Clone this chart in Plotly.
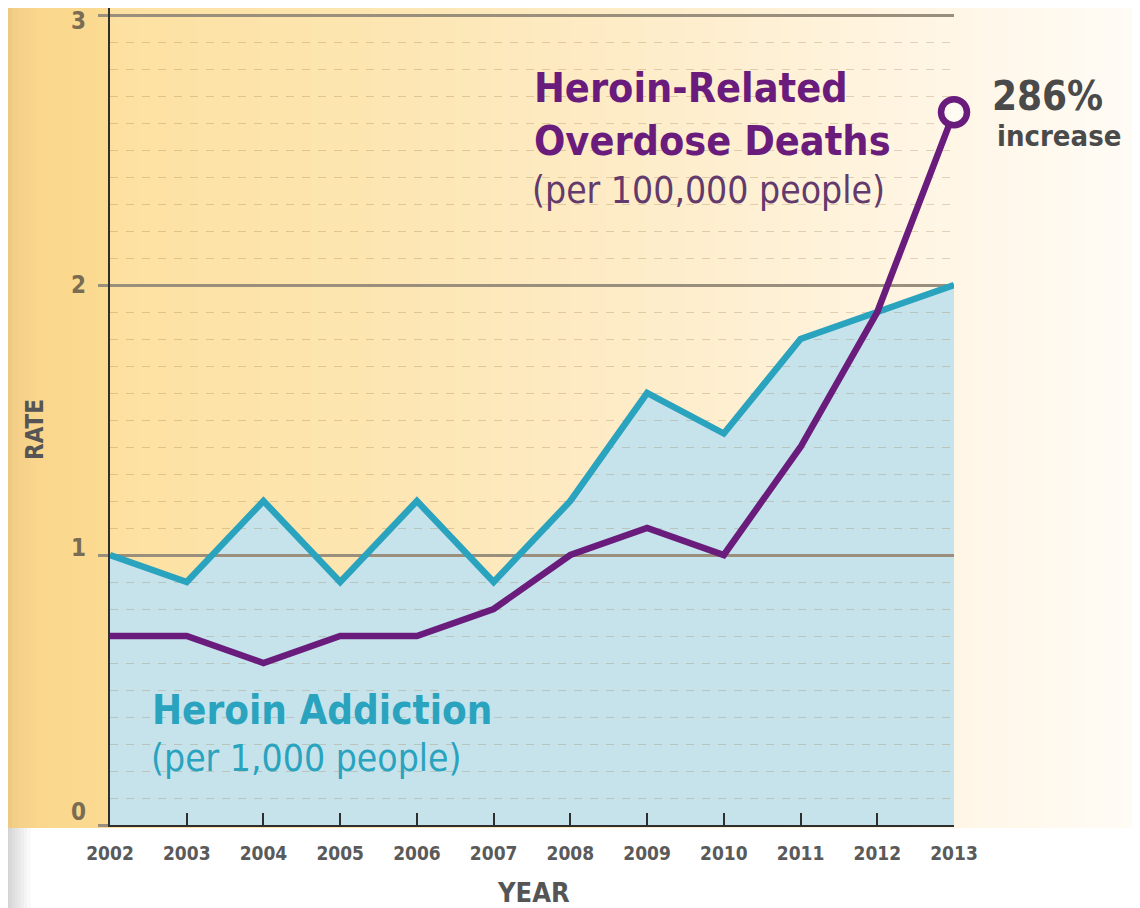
import plotly.graph_objects as go

years = [2002, 2003, 2004, 2005, 2006, 2007, 2008, 2009, 2010, 2011, 2012, 2013]
addiction = [1.0, 0.9, 1.2, 0.9, 1.2, 0.9, 1.2, 1.6, 1.45, 1.8, 1.9, 2.0]
deaths = [0.7, 0.7, 0.6, 0.7, 0.7, 0.8, 1.0, 1.1, 1.0, 1.4, 1.9, 2.64]
y_ticks = [0, 1, 2, 3]

# page offset of the figure (default body margin)
OFF = 8
W, H = 1132, 900
ML, MT = 102, 0
MB = H - (825 - OFF)
MR = W - (954 - OFF)
PW, PH = W - ML - MR, H - MT - MB

def fx(px):
    """page pixel x -> paper fraction"""
    return (px - OFF - ML) / PW

def fy(py):
    """page pixel y -> paper fraction"""
    return (825 - py) / PH

FONT = "Liberation Sans Narrow, DejaVu Sans Condensed, Roboto, sans-serif"
PURPLE = "#6A1C7C"
TEAL = "#2AA3BE"
FILL = "#C6E3EC"
GREY = "#555555"

def hex2rgb(h):
    h = h.lstrip("#")
    return tuple(int(h[i:i + 2], 16) for i in (0, 2, 4))

stops = [(0, "#E6C47F"), (18, "#F4D088"), (40, "#FAD78C"), (105, "#FBDA91"),
         (112, "#FDE1A1"), (400, "#FDE6B3"), (700, "#FEEECE"), (954, "#FFF6E6"),
         (1140, "#FFFCF6")]

def interp(px):
    for (a, ca), (b, cb) in zip(stops[:-1], stops[1:]):
        if a <= px <= b:
            t = (px - a) / (b - a) if b > a else 0
            ra, rb = hex2rgb(ca), hex2rgb(cb)
            return "rgb(%d,%d,%d)" % tuple(round(ra[i] + (rb[i] - ra[i]) * t) for i in range(3))
    return stops[-1][1]

shapes = []
step = 6
for px in range(0, 1140, step):
    shapes.append(dict(type="rect", xref="paper", yref="paper",
                       x0=fx(px), x1=fx(px + step + 1), y0=fy(828), y1=fy(-20),
                       fillcolor=interp(px + step / 2), line=dict(width=0), layer="below"))
# grey edge at bottom-left
for px in range(0, 30, 3):
    g = round(200 + (255 - 200) * px / 30)
    shapes.append(dict(type="rect", xref="paper", yref="paper",
                       x0=fx(px), x1=fx(px + 4), y0=fy(920), y1=fy(828),
                       fillcolor="rgb(%d,%d,%d)" % (g, g, g), line=dict(width=0), layer="below"))

fig = go.Figure()

# filled area (bottom subplot)
fig.add_trace(go.Scatter(x=years, y=addiction, mode="lines", fill="tozeroy",
                         fillcolor=FILL, line=dict(width=0, color=FILL),
                         xaxis="x", yaxis="y", hoverinfo="skip", showlegend=False))

# lines (top subplot, drawn above its gridlines)
fig.add_trace(go.Scatter(x=years, y=addiction, mode="lines",
                         line=dict(color=TEAL, width=6.5), xaxis="x2", yaxis="y2",
                         showlegend=False))
marker_sizes = [0] * (len(years) - 1) + [26]
fig.add_trace(go.Scatter(x=years, y=deaths, mode="lines+markers",
                         line=dict(color=PURPLE, width=6.5),
                         marker=dict(size=marker_sizes, color="#FFFAF2", opacity=1,
                                     line=dict(color=PURPLE, width=6.5)),
                         cliponaxis=False,
                         xaxis="x2", yaxis="y2", showlegend=False))

yr = [0, 3 + (15 - OFF) / 270]
xr = [2002, 2013]

annotations = [
    dict(text="<b>Heroin-Related</b>", x=fx(532), y=fy(88), xanchor="left", yanchor="middle",
         font=dict(family=FONT, size=41, color=PURPLE)),
    dict(text="<b>Overdose Deaths</b>", x=fx(532), y=fy(141), xanchor="left", yanchor="middle",
         font=dict(family=FONT, size=41, color=PURPLE)),
    dict(text="(per 100,000 people)", x=fx(530), y=fy(190), xanchor="left", yanchor="middle",
         font=dict(family=FONT, size=37, color="#633A6C")),
    dict(text="<b>Heroin Addiction</b>", x=fx(150), y=fy(710), xanchor="left", yanchor="middle",
         font=dict(family=FONT, size=40, color=TEAL)),
    dict(text="(per 1,000 people)", x=fx(149), y=fy(758), xanchor="left", yanchor="middle",
         font=dict(family=FONT, size=37, color=TEAL)),
    dict(text="<b>286%</b>", x=fx(990), y=fy(96), xanchor="left", yanchor="middle",
         font=dict(family=FONT, size=40, color="#4A4A4A")),
    dict(text="<b>increase</b>", x=fx(995), y=fy(136), xanchor="left", yanchor="middle",
         font=dict(family=FONT, size=29, color="#4A4A4A")),
    dict(text="<b>RATE</b>", x=fx(35), y=fy(430), xanchor="center", yanchor="middle",
         textangle=-90, font=dict(family=FONT, size=24, color=GREY)),
    dict(text="<b>YEAR</b>", x=fx(533), y=fy(892), xanchor="center", yanchor="middle",
         font=dict(family=FONT, size=27, color=GREY)),
]
for a in annotations:
    a.update(xref="paper", yref="paper", showarrow=False)

# y tick labels (hand-placed offsets as in the original artwork)
label_shift = {0: 13, 1: 7, 2: 0, 3: -6}
for v in y_ticks:
    annotations.append(dict(text="<b>%d</b>" % v, xref="paper", yref="y2", x=fx(88), y=v,
                            xanchor="right", yanchor="middle", yshift=label_shift[v],
                            showarrow=False,
                            font=dict(family=FONT, size=24, color="#7A6C52")))

fig.update_layout(
    width=W, height=H,
    margin=dict(l=ML, r=MR, t=MT, b=MB),
    paper_bgcolor="white",
    plot_bgcolor="rgba(0,0,0,0)",
    shapes=shapes,
    annotations=annotations,
    xaxis=dict(range=xr, visible=False, domain=[0, 1]),
    yaxis=dict(range=yr, visible=False, domain=[0, 1]),
    xaxis2=dict(range=xr, anchor="y2", domain=[0, 1],
                tickvals=years, ticktext=["<b>%d</b>" % y for y in years],
                showgrid=False, zeroline=False,
                showline=True, linecolor="#2E2E2E", linewidth=2,
                ticks="inside", ticklen=12, tickwidth=2, tickcolor="#2E2E2E",
                ticklabelstandoff=10,
                tickfont=dict(family=FONT, size=19, color="#5A5A5A")),
    yaxis2=dict(range=yr, anchor="x2", domain=[0, 1],
                tickvals=y_ticks, showticklabels=False,
                showgrid=True, gridcolor="#9A8E7C", gridwidth=2.5, zeroline=False,
                showline=True, linecolor="#2E2E2E", linewidth=2,
                ticks="outside", ticklen=10, tickwidth=2.5, tickcolor="#9A8E7C",
                minor=dict(dtick=0.1, tick0=0, showgrid=True, gridwidth=1.4,
                           gridcolor="rgba(150,115,70,0.28)", griddash="8px,8px")),
)

fig.write_html("out.html")
